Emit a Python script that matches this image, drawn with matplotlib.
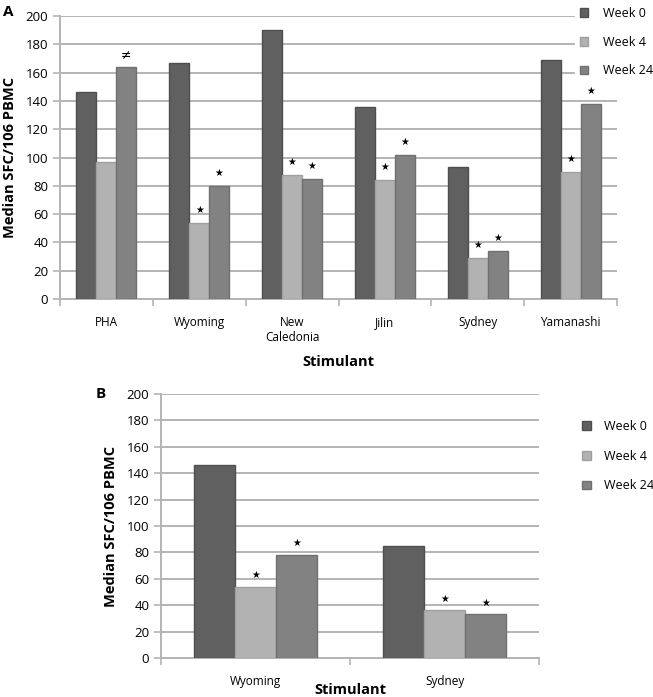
import numpy as np
import matplotlib
matplotlib.use("Agg")
import matplotlib.pyplot as plt
from matplotlib.patches import Patch

plt.rcParams["font.family"] = ["Open Sans", "DejaVu Sans"]

# Data ------------------------------------------------------------------
series_names = ["Week 0", "Week 4", "Week 24"]

stimulants_a = ["PHA", "Wyoming", "New\nCaledonia", "Jilin", "Sydney", "Yamanashi"]
week0_a = [146, 167, 190, 136, 93, 169]
week4_a = [97, 54, 88, 84, 29, 90]
week24_a = [164, 80, 85, 102, 34, 138]
# significance marks above each bar (week 0, week 4, week 24)
marks_a = [["", "", "\u2260"],
           ["", "\u2605", "\u2605"],
           ["", "\u2605", "\u2605"],
           ["", "\u2605", "\u2605"],
           ["", "\u2605", "\u2605"],
           ["", "\u2605", "\u2605"]]

stimulants_b = ["Wyoming", "Sydney"]
week0_b = [146, 85]
week4_b = [54, 36]
week24_b = [78, 33]
marks_b = [["", "\u2605", "\u2605"],
           ["", "\u2605", "\u2605"]]

yticks = [0, 20, 40, 60, 80, 100, 120, 140, 160, 180, 200]

# Styles ----------------------------------------------------------------
face_colors = ["#606060", "#b2b2b2", "#828282"]
edge_colors = ["#4e4e4e", "#a0a0a0", "#707070"]
grid_color = "#b4b4b4"


def draw_panel(ax, cats, values, marks, width):
    x = np.arange(len(cats))
    offsets = [-width, 0, width]
    for i, vals in enumerate(values):
        ax.bar(x + offsets[i], vals, width, color=face_colors[i],
               edgecolor=edge_colors[i], linewidth=1.0, zorder=3)
        for j, v in enumerate(vals):
            m = marks[j][i]
            if m:
                ax.text(x[j] + offsets[i], v + 9, m, ha="center", va="center",
                        fontsize=7 if m == "\u2605" else 9,
                        family=["DejaVu Sans"], zorder=4)
    ax.set_ylim(0, 200)
    ax.set_xlim(-0.5, len(cats) - 0.5)
    ax.set_yticks(yticks)
    ax.yaxis.grid(True, color=grid_color, linewidth=1.4, zorder=0)
    ax.set_axisbelow(True)
    ax.set_xticks(x)
    ax.set_xticklabels(cats, fontsize=8.5)
    ax.set_xticks(np.arange(len(cats) + 1) - 0.5, minor=True)
    ax.tick_params(axis="x", which="major", length=0, pad=12)
    ax.tick_params(axis="x", which="minor", length=5, color=grid_color, width=1.2)
    ax.tick_params(axis="y", length=5, color=grid_color, width=1.2, labelsize=9.5)
    for s in ["top", "right"]:
        ax.spines[s].set_visible(False)
    for s in ["left", "bottom"]:
        ax.spines[s].set_color(grid_color)
        ax.spines[s].set_linewidth(1.4)


fig = plt.figure(figsize=(6.53, 6.97), dpi=100)
handles = [Patch(facecolor=face_colors[i], edgecolor=edge_colors[i]) for i in range(3)]

# Panel A ---------------------------------------------------------------
ax_a = fig.add_axes([0.0919, 0.571, 0.853, 0.406])
draw_panel(ax_a, stimulants_a, [week0_a, week4_a, week24_a], marks_a, 0.215)
ax_a.set_ylabel("Median SFC/106 PBMC", fontsize=10.5, fontweight="bold", labelpad=6)
ax_a.set_xlabel("Stimulant", fontsize=10.5, fontweight="bold", labelpad=8)
fig.text(0.004, 0.993, "A", fontsize=11, fontweight="bold", va="top")

fig.legend(handles, series_names, loc="upper left",
           bbox_to_anchor=(0.88, 0.997), fontsize=9,
           frameon=True, facecolor="white", edgecolor="white", framealpha=1,
           handlelength=0.7, handleheight=0.7, labelspacing=1.25,
           handletextpad=1.2, borderaxespad=0)

# Panel B ---------------------------------------------------------------
ax_b = fig.add_axes([0.2466, 0.056, 0.5789, 0.3787])
draw_panel(ax_b, stimulants_b, [week0_b, week4_b, week24_b], marks_b, 0.218)
ax_b.set_ylabel("Median SFC/106 PBMC", fontsize=10.5, fontweight="bold", labelpad=6)
ax_b.set_xlabel("Stimulant", fontsize=10.5, fontweight="bold", labelpad=-3)
fig.text(0.147, 0.4347, "B", fontsize=11, fontweight="bold", va="center")

fig.legend(handles, series_names, loc="upper left",
           bbox_to_anchor=(0.884, 0.405), fontsize=9,
           frameon=False, handlelength=0.7, handleheight=0.7,
           labelspacing=1.35, handletextpad=1.0, borderaxespad=0)

fig.savefig("out.png", dpi=100)
